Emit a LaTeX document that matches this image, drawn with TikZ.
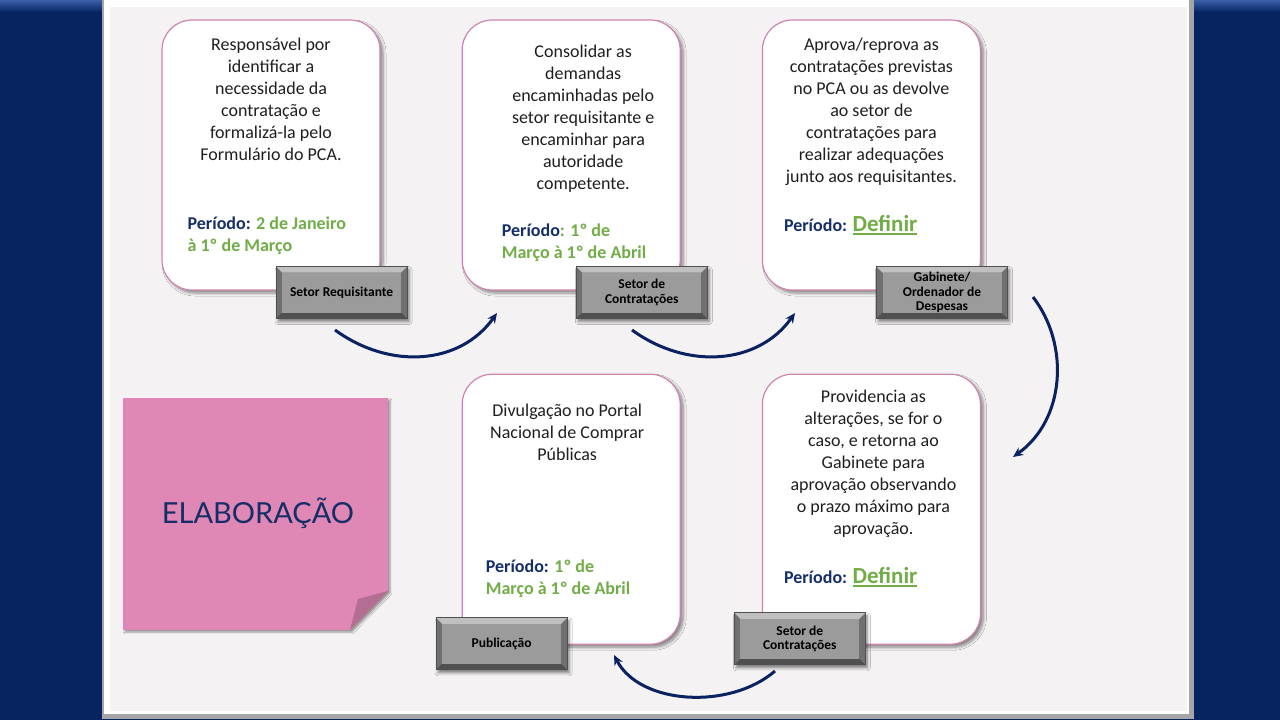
\documentclass[tikz,border=0pt]{standalone}
\usepackage{fontspec}
\setmainfont{Carlito}
\newfontfamily\notefont{Lato}
\usetikzlibrary{arrows.meta}
\usetikzlibrary{calc}
\usetikzlibrary{positioning}
\usetikzlibrary{shadows.blur}
\definecolor{band}{RGB}{7,36,96}
\definecolor{bandhi}{RGB}{60,95,170}
\definecolor{panel}{RGB}{244,242,243}
\definecolor{cardline}{RGB}{206,132,174}
\definecolor{pnavy}{RGB}{22,46,104}
\definecolor{pgreen}{RGB}{112,173,71}
\definecolor{notepink}{RGB}{224,136,181}
\definecolor{notefold}{RGB}{180,110,147}
\definecolor{tagface}{RGB}{155,155,155}
\definecolor{tagside}{RGB}{112,112,112}
\definecolor{tagtop}{RGB}{192,192,192}
\definecolor{tagbot}{RGB}{80,80,80}
\definecolor{flowblue}{RGB}{10,34,98}
\newcommand{\periodo}{\textcolor{pnavy}{Período:}}
\newcommand{\definir}{\textcolor{pgreen}{\fontsize{23}{23}\selectfont\setbox0\hbox{Definir}\rlap{\rule[-3pt]{\wd0}{1.6pt}}\box0}}

\begin{document}
\begin{tikzpicture}[x=1pt,y=-1pt,>={Stealth[length=10pt,width=9pt]}]
		\tikzstyle{card}=[rectangle,rounded corners=30pt,draw=cardline,line width=1.2pt,fill=white,
			minimum width=218pt,minimum height=270pt,inner sep=0pt,
			blur shadow={shadow xshift=3pt,shadow yshift=-3pt,shadow opacity=45,shadow blur steps=6,shadow blur radius=3pt}];
		\tikzstyle{desc}=[anchor=north,align=center,inner sep=0pt,font=\fontsize{18}{22}\selectfont,text=black!88];
		\tikzstyle{period}=[anchor=north west,align=left,inner sep=0pt,font=\bfseries\fontsize{18}{22}\selectfont,text=pgreen];
		\tikzstyle{tag}=[rectangle,draw=tagbot,line width=0.8pt,fill=tagside,minimum width=131pt,minimum height=52pt,
			inner sep=2pt,align=center,font=\bfseries\fontsize{13.5}{14.5}\selectfont,
			blur shadow={shadow xshift=2pt,shadow yshift=-3pt,shadow opacity=50,shadow blur radius=3pt},
			path picture={
				\fill[tagtop](path picture bounding box.north west)--(path picture bounding box.north east)
					--([shift={(-6pt,-6pt)}]path picture bounding box.north east)--([shift={(6pt,-6pt)}]path picture bounding box.north west)--cycle;
				\fill[tagbot](path picture bounding box.south west)--(path picture bounding box.south east)
					--([shift={(-6pt,6pt)}]path picture bounding box.south east)--([shift={(6pt,6pt)}]path picture bounding box.south west)--cycle;
				\fill[tagface]([shift={(6pt,-6pt)}]path picture bounding box.north west)rectangle([shift={(-6pt,6pt)}]path picture bounding box.south east);
			}];
		\tikzstyle{flow}=[->,draw=flowblue,line width=3pt];
		\useasboundingbox(0,0)rectangle(1280,720);

		% frame
		\fill[band](0,0)rectangle(1280,720);
		\shade[top color=bandhi,bottom color=band](0,0)rectangle(105,12);
		\shade[top color=bandhi,bottom color=band](1190,0)rectangle(1280,12);
		\fill[black!35](102,0)rectangle(1194,719);
		\fill[white](104,0)rectangle(1189,714);
		\fill[panel](110,7)rectangle(1187,711);

		% sticky note
		\fill[notepink,blur shadow={shadow xshift=2pt,shadow yshift=-2pt,shadow opacity=40}]
			(123,398)--(388,398)--(388,591)--(350,630)--(123,630)--cycle;
		\fill[notefold](388,591)--(358,599)--(350,630)--cycle;
		\node[text=pnavy,font=\notefont\fontsize{29}{29}\selectfont](elab)at(258,513){ELABORAÇÃO};

		% cards
		\node[card](c1)at(271,155){};
		\node[card,right=81pt of c1](c2){};
		\node[card,right=81pt of c2](c3){};
		\node[card,below=83pt of c2](c4){};
		\node[card,below=83pt of c3](c5){};

		\node[desc](d1)at([yshift=-18pt]c1.north){Responsável por\\identificar a\\necessidade da\\contratação e\\formalizá-la pelo\\Formulário do PCA.};
		\node[desc](d2)at([shift={(12pt,-25pt)}]c2.north){Consolidar as\\demandas\\encaminhadas pelo\\setor requisitante e\\encaminhar para\\autoridade\\competente.};
		\node[desc](d3)at([yshift=-18pt]c3.north){Aprova/reprova as\\contratações previstas\\no PCA ou as devolve\\ao setor de\\contratações para\\realizar adequações\\junto aos requisitantes.};
		\node[desc](d4)at([shift={(-4pt,-30pt)}]c4.north){Divulgação no Portal\\Nacional de Comprar\\Públicas};
		\node[desc](d5)at([shift={(2pt,-16pt)}]c5.north){Providencia as\\alterações, se for o\\caso, e retorna ao\\Gabinete para\\aprovação observando\\o prazo máximo para\\aprovação.};

		\node[period](p1)at([shift={(26pt,-197pt)}]c1.north west){\periodo{} 2 de Janeiro\\à 1º de Março};
		\node[period](p2)at([shift={(40pt,-204pt)}]c2.north west){\textcolor{pnavy}{Período}: 1º de\\Março à 1º de Abril};
		\node[period](p3)at([shift={(22pt,-196pt)}]c3.north west){\periodo{} \definir};
		\node[period](p4)at([shift={(24pt,-186pt)}]c4.north west){\periodo{} 1º de\\Março à 1º de Abril};
		\node[period](p5)at([shift={(22pt,-194pt)}]c5.north west){\periodo{} \definir};

		% tags
		\node[tag](l1)at([shift={(-39pt,-2pt)}]c1.south east){Setor Requisitante};
		\node[tag](l2)at([shift={(-39pt,-2pt)}]c2.south east){Setor de\\Contratações};
		\node[tag](l3)at([shift={(-39pt,-2pt)}]c3.south east){Gabinete/\\Ordenador de\\Despesas};
		\node[tag](l4)at([shift={(40pt,1pt)}]c4.south west){Publicação};
		\node[tag](l5)at([shift={(38pt,6pt)}]c5.south west){Setor de\\Contratações};

		% arrows
		\coordinate(a1s)at(335,330);
		\coordinate(a1e)at(497,313);
		\coordinate(a2s)at(632,330);
		\coordinate(a2e)at(795,313);
		\coordinate(a3s)at(1033,297);
		\coordinate(a3e)at(1013,457);
		\coordinate(a4s)at(775,671);
		\coordinate(a4e)at(614,655);
		\draw[flow](a1s)..controls+(55,40)and+(-37,52)..(a1e);
		\draw[flow](a2s)..controls+(55,40)and+(-37,52)..(a2e);
		\draw[flow](a3s)..controls+(37,48)and+(52,-37)..(a3e);
		\draw[flow](a4s)..controls+(-45,39)and+(26,50)..(a4e);
	\end{tikzpicture}
\end{document}
